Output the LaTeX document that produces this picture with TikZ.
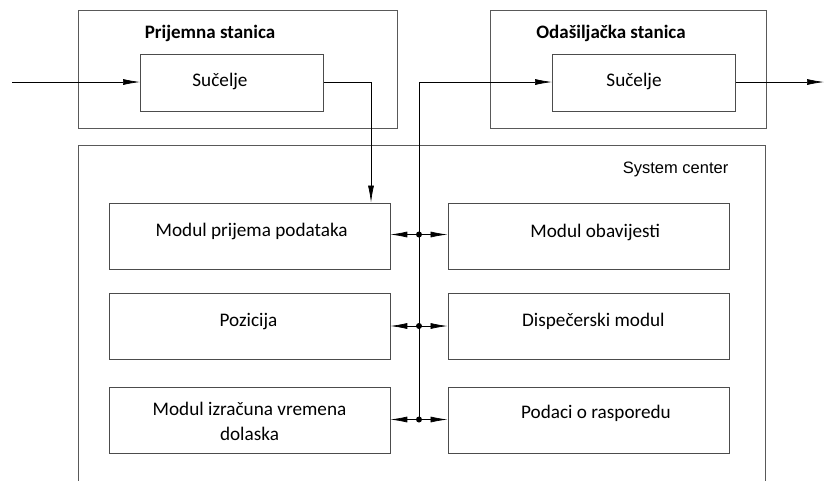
\documentclass[tikz,border=0pt]{standalone}
\usepackage{fontspec}
\setmainfont{Carlito}
\newfontfamily\arialf{Liberation Sans}
\usetikzlibrary{arrows.meta,calc}
\begin{document}
\begin{tikzpicture}[x=1pt,y=-1pt,
  frame/.style={draw=black!65,line width=0.8pt},
  box/.style={draw=black!70,line width=0.8pt,rectangle,anchor=north west,inner sep=0pt},
  lbl/.style={font=\fontsize{19.2}{25}\selectfont,inner sep=0pt,anchor=base,align=center},
  ttl/.style={font=\fontsize{19}{22}\selectfont\bfseries,inner sep=0pt,anchor=base},
  arr/.style={draw=black,line width=0.7pt,-{Latex[length=17pt,width=6pt]}},
  ln/.style={draw=black,line width=0.7pt},
  dot/.style={circle,fill=black,inner sep=0pt,minimum size=6pt}
]
\useasboundingbox (0,0) rectangle (824,480);
% outer frames
\node[box,frame,minimum width=319pt,minimum height=118pt] (ps) at (78,10) {};
\node[box,frame,minimum width=276pt,minimum height=118pt] (os) at (490,10) {};
\draw[frame] (78,490) -- (78,145) -- (765,145) -- (765,490);
\node[ttl] (pst) at (210,38.3) {Prijemna stanica};
\node[ttl] (ost) at (611,38.3) {Odašiljačka stanica};
\node[font=\arialf\fontsize{16.5}{19}\selectfont,inner sep=0pt,anchor=base east] (sc) at (728.5,173.5) {System center};
% interfaces
\node[box,minimum width=183pt,minimum height=57pt] (rs) at (140,54) {};
\node[lbl] (rst) at (220,86) {Sučelje};
\node[box,minimum width=183pt,minimum height=57pt] (osu) at (552,54) {};
\node[lbl] (osut) at (634,86) {Sučelje};
% modules left
\node[box,minimum width=281pt,minimum height=66pt] (m1) at (108.5,202.5) {};
\node[lbl] (m1t) at (251.7,236.7) {Modul prijema podataka};
\node[box,minimum width=281pt,minimum height=66pt] (m2) at (108.5,293.3) {};
\node[lbl] (m2t) at (248.5,326.7) {Pozicija};
\node[box,minimum width=281pt,minimum height=66pt] (m3) at (108.5,386.5) {};
\node[lbl] (m3t) at (249.5,440) {Modul izračuna vremena\\dolaska};
% modules right
\node[box,minimum width=281pt,minimum height=66pt] (r1) at (447.5,202.5) {};
\node[lbl] (r1t) at (595.3,237) {Modul obavijesti};
\node[box,minimum width=281pt,minimum height=66pt] (r2) at (447.5,293.3) {};
\node[lbl] (r2t) at (593.4,326.7) {Dispečerski modul};
\node[box,minimum width=281pt,minimum height=66pt] (r3) at (447.5,386.5) {};
\node[lbl] (r3t) at (596,418) {Podaci o rasporedu};
% connectors
\coordinate (in) at (12,82);
\coordinate (out) at (824,82);
\coordinate (down) at (371,202.5);
\coordinate (bt) at (419,82);
\node[dot] (j1) at (419,234.5) {};
\node[dot] (j2) at (419,326) {};
\node[dot] (j3) at (419,419.5) {};
\draw[arr] (in) -- (rs.west |- in);
\draw[arr] (rs.east |- in) -| (down);
\draw[ln] (bt) -- (j3.center);
\draw[arr] (bt) -- (osu.west |- bt);
\draw[arr] (osu.east |- out) -- (out);
\foreach \j/\l/\r in {j1/m1/r1,j2/m2/r2,j3/m3/r3}{
  \draw[arr] (\j.center) -- (\l.east |- \j.center);
  \draw[arr] (\j.center) -- (\r.west |- \j.center);
}
\end{tikzpicture}
\end{document}
